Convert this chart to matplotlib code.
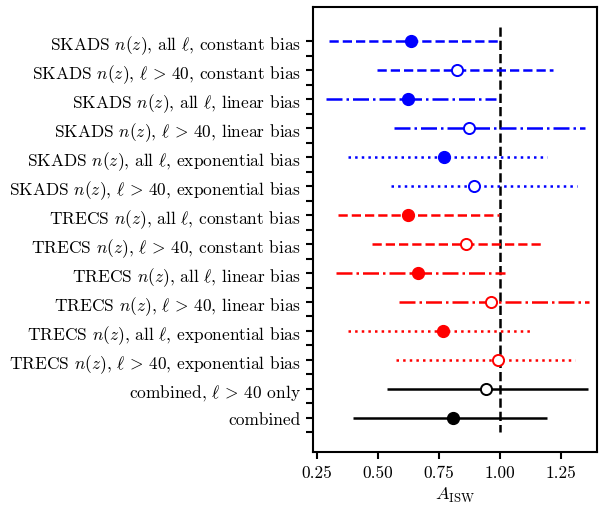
import matplotlib
matplotlib.use("Agg")
import matplotlib.pyplot as plt
import numpy as np

plt.rcParams["font.family"] = "serif"
plt.rcParams["font.serif"] = ["cmr10"]
plt.rcParams["mathtext.fontset"] = "cm"
plt.rcParams["axes.formatter.use_mathtext"] = True

labels = [
    r"SKADS $n(z)$, all $\ell$, constant bias",
    r"SKADS $n(z)$, $\ell\,>\,40$, constant bias",
    r"SKADS $n(z)$, all $\ell$, linear bias",
    r"SKADS $n(z)$, $\ell\,>\,40$, linear bias",
    r"SKADS $n(z)$, all $\ell$, exponential bias",
    r"SKADS $n(z)$, $\ell\,>\,40$, exponential bias",
    r"TRECS $n(z)$, all $\ell$, constant bias",
    r"TRECS $n(z)$, $\ell\,>\,40$, constant bias",
    r"TRECS $n(z)$, all $\ell$, linear bias",
    r"TRECS $n(z)$, $\ell\,>\,40$, linear bias",
    r"TRECS $n(z)$, all $\ell$, exponential bias",
    r"TRECS $n(z)$, $\ell\,>\,40$, exponential bias",
    r"combined, $\ell\,>\,40$ only",
    r"combined",
]
a_isw = [0.635, 0.823, 0.622, 0.874, 0.772, 0.891,
         0.622, 0.861, 0.663, 0.962, 0.764, 0.993,
         0.943, 0.805]
lower = [0.300, 0.495, 0.287, 0.566, 0.378, 0.553,
         0.337, 0.477, 0.328, 0.586, 0.378, 0.574,
         0.538, 0.399]
upper = [0.995, 1.215, 0.985, 1.348, 1.191, 1.314,
         0.997, 1.177, 1.020, 1.366, 1.134, 1.307,
         1.359, 1.191]
colors = ["blue"] * 6 + ["red"] * 6 + ["black"] * 2
styles = ["--", "--", "-.", "-.", ":", ":"] * 2 + ["-", "-"]
filled = [True, False] * 6 + [False, True]

fig = plt.figure(figsize=(6, 5.1), dpi=100)
ax = fig.add_axes([0.522, 0.112, 0.473, 0.872])

n = len(labels)
ypos = np.arange(n)
for i in range(n):
    xerr = [[a_isw[i] - lower[i]], [upper[i] - a_isw[i]]]
    if filled[i]:
        mk = dict(ms=8.5, mew=1.0, mfc=colors[i])
    else:
        mk = dict(ms=8, mew=1.4, mfc="white")
    eb = ax.errorbar(a_isw[i], ypos[i], xerr=xerr, fmt="o", color=colors[i],
                     elinewidth=1.8, capsize=0, zorder=3, **mk)
    eb[-1][0].set_linestyle(styles[i])

ax.vlines(1.0, -0.5, n - 0.5, colors="black", linestyles="--", lw=1.8, zorder=2)

ax.set_yticks(ypos)
ax.set_yticklabels(labels, fontsize=12.5)
ax.set_yticks(ypos + 0.5, minor=True)
ax.set_ylim(n - 1 + 1.17, -1.17)
ax.set_xlim(0.234, 1.397)
ax.set_xticks([0.25, 0.5, 0.75, 1.0, 1.25])
ax.set_xticklabels(["0.25", "0.50", "0.75", "1.00", "1.25"], fontsize=12.5)
ax.set_xlabel(r"$A_{\rm ISW}$", fontsize=13)

for s in ax.spines.values():
    s.set_linewidth(1.5)
ax.tick_params(which="both", length=5, width=1.5, pad=4)

fig.savefig("out.png", dpi=100)
